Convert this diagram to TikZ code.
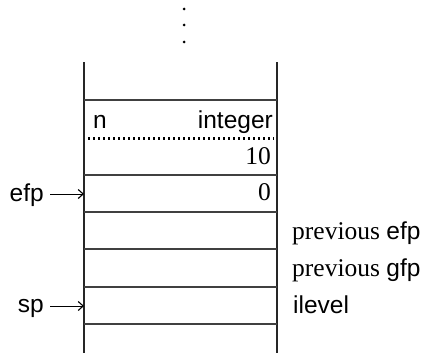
\documentclass[tikz,border=0pt]{standalone}
\usepackage{fontspec}
\setmainfont{Liberation Serif}
\setsansfont{Liberation Sans}
\usetikzlibrary{arrows.meta}
\begin{document}
\begin{tikzpicture}[x=1pt,y=-1pt,
  frame/.style={line width=1.6pt, black!85},
  sep/.style={line width=1.3pt, black!75},
  dotline/.style={line width=2.2pt, dash pattern=on 2.2pt off 2.8pt},
  lbl/.style={inner sep=0pt, font=\fontsize{24.5}{28}\selectfont\sffamily},
  num/.style={inner sep=0pt, font=\fontsize{25.5}{30}\selectfont\rmfamily},
  ptr/.style={line width=1pt, shorten <=6pt, -{Straight Barb[length=5pt,width=9pt,line width=1.1pt]}}]
\useasboundingbox (0,0) rectangle (425,353);
% continuation dots
\foreach \yy in {9,25,42} \fill (184,\yy) circle (1.5pt);
% stack frame
\draw[frame] (84,62) -- (84,353);
\draw[frame] (277,62) -- (277,353);
\foreach \yy in {100,175,212,249,287,324} \draw[sep] (84,\yy) -- (277,\yy);
\draw[dotline] (88,138.5) -- (274,138.5);
% cell contents
\node[lbl, anchor=base west] (n) at (93,128) {n};
\node[lbl, anchor=base east] (int) at (273,128) {integer};
\node[num, anchor=base east] (ten) at (271,164) {10};
\node[num, anchor=base east] (zero) at (271,200) {0};
% right labels
\node[num, anchor=base west] (pefp) at (292,239) {previous \sffamily\fontsize{24.5}{28}\selectfont efp};
\node[num, anchor=base west] (pgfp) at (292,276) {previous \sffamily\fontsize{24.5}{28}\selectfont gfp};
\node[lbl, anchor=base west] (ilev) at (293,313) {ilevel};
% pointers
\coordinate (efpT) at (84,194);
\coordinate (spT) at (84,306);
\node[lbl, anchor=base east] (efp) at (44,201) {efp};
\node[lbl, anchor=base east] (sp) at (44,312.5) {sp};
\draw[ptr] (efp.east |- efpT) -- (efpT);
\draw[ptr] (sp.east |- spT) -- (spT);
\end{tikzpicture}
\end{document}
